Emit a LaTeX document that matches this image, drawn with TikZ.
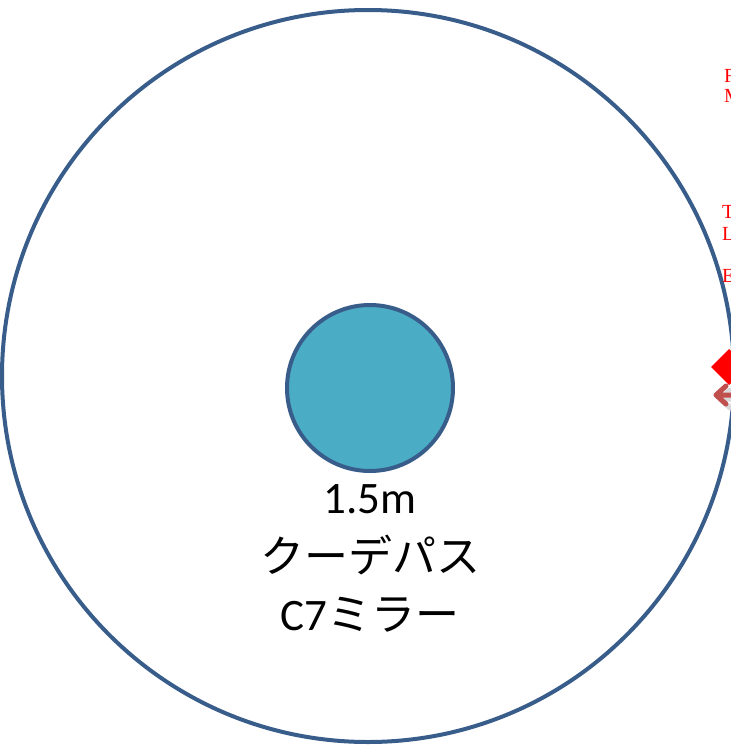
\documentclass[tikz,border=0pt]{standalone}
\usepackage{fontspec}
\setmainfont{Carlito}
\newfontfamily\jpfont{Noto Sans CJK JP}
\newfontfamily\redserif{Liberation Serif}
\usetikzlibrary{arrows.meta}
\definecolor{ringblue}{RGB}{56,93,138}
\definecolor{mirrorfill}{RGB}{75,172,198}
\definecolor{arrowred}{RGB}{192,80,77}
\tikzset{
  ring/.style={draw=ringblue, line width=4pt},
  mirror/.style={draw=ringblue, line width=4pt, fill=mirrorfill},
  lbl/.style={font=\fontsize{45}{50}\selectfont, inner sep=0pt, anchor=base},
  redlbl/.style={font=\redserif\fontsize{20}{22}\selectfont, text=red, inner sep=0pt, anchor=base west},
}
\begin{document}
\begin{tikzpicture}[x=1pt,y=-1pt]
\useasboundingbox (0,0) rectangle (731,750);
\begin{scope}
\clip (0,0) rectangle (731,750);
\draw[ring] (368,376) circle (366);
\node[mirror, circle, minimum size=166pt, inner sep=0pt] (mirror) at (370,388) {};
\node[lbl] (t1) at (370,513) {1.5m};
\node[lbl] (t2) at (370,572) {\jpfont\fontsize{44}{50}\selectfont クーデパス};
\node[lbl] (t3) at (370,630) {C7{\jpfont\fontsize{44}{50}\selectfont ミラー}};
\node[redlbl] (r1) at (724,82) {F};
\node[redlbl] (r2) at (724,102) {M};
\node[redlbl] (r3) at (722,218) {T};
\node[redlbl] (r4) at (722,240) {L};
\node[redlbl] (r5) at (722,282) {E};
\fill[red] (711,367) -- (729,349) -- (747,367) -- (729,385) -- cycle;
\coordinate (ae) at (740,395);
\coordinate (at) at (716,395);
\draw[black!15, line width=5pt, line cap=round, line join=round] (744,399) -- (720,399) -- (730,390) (720,399) -- (730,408);
\draw[arrowred, line width=5pt, line cap=round, line join=round] (ae) -- (at) -- ++(10,-9) (at) -- ++(10,9);
\end{scope}
\end{tikzpicture}
\end{document}
